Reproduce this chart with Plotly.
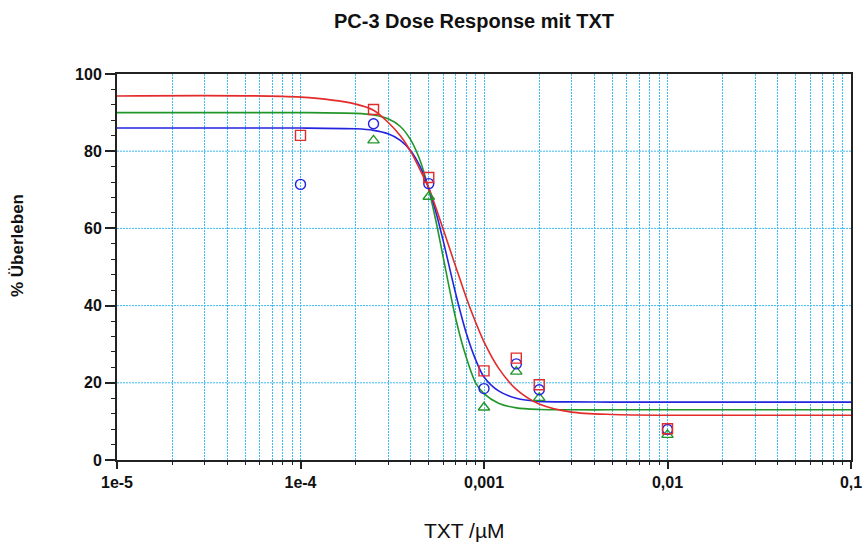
import plotly.graph_objects as go

# ---- measured data points ----
doses = [1e-4, 2.5e-4, 5e-4, 1e-3, 1.5e-3, 2e-3, 1e-2]
red_pts = [84.1, 90.8, 73.2, 23.1, 26.4, 19.5, 8.1]
blue_pts = [71.4, 87.1, 71.6, 18.5, 24.9, 18.2, 7.9]
green_pts = [None, 82.8, 68.2, 13.6, 22.9, 16.1, 6.5]

# ---- fitted curves ----
curve_dose = [1e-5, 1e-4, 2e-4, 2.5e-4, 3e-4, 3.5e-4, 4e-4, 4.5e-4, 5e-4, 5.5e-4,
              6e-4, 7e-4, 8e-4, 9e-4, 1e-3, 1.2e-3, 1.5e-3, 2e-3, 3e-3, 5e-3, 1e-2, 1e-1]
red_curve = [94.3, 94.0, 92.2, 90.6, 87.5, 84.0, 79.8, 75.0, 70.5, 65.0,
             59.7, 50.2, 42.1, 35.7, 30.6, 23.8, 18.3, 14.5, 12.4, 11.8, 11.6, 11.6]
blue_curve = [86.0, 86.0, 85.8, 85.4, 84.5, 82.8, 80.0, 75.9, 70.4, 63.8,
              56.7, 43.2, 32.9, 26.0, 21.5, 17.9, 16.0, 15.2, 15.05, 15.0, 15.0, 15.0]
green_curve = [90.0, 90.0, 89.8, 89.4, 88.4, 86.4, 82.8, 77.4, 70.0, 61.4,
               52.4, 36.8, 26.6, 20.0, 17.2, 14.7, 13.5, 13.1, 13.0, 13.0, 13.0, 13.0]

x_tickvals = [1e-5, 1e-4, 1e-3, 1e-2, 1e-1]
x_ticktext = ["1e-5", "1e-4", "0,001", "0,01", "0,1"]
x_minor = [m * 10.0 ** e for e in range(-5, -1) for m in range(2, 10)]
y_grid_vals = [20, 40, 60, 80]

title_text = "PC-3 Dose Response mit TXT"
x_title = "TXT /µM"
y_title = "% Überleben"

RED = "#e32b2b"
BLUE = "#2323e0"
GREEN = "#23962a"
GRID = "#3cbcf2"
DASH = "2px,1px"
FONT = "Liberation Sans, Arial, sans-serif"

fig = go.Figure()

for yc, col in [(green_curve, GREEN), (blue_curve, BLUE), (red_curve, RED)]:
    fig.add_trace(go.Scatter(x=curve_dose, y=yc, mode="lines",
                             line=dict(color=col, width=1.6, shape="spline", smoothing=0.8),
                             hoverinfo="skip", showlegend=False))

for yp, col, sym in [(green_pts, GREEN, "triangle-up-open"),
                     (blue_pts, BLUE, "circle-open"),
                     (red_pts, RED, "square-open")]:
    fig.add_trace(go.Scatter(x=doses, y=yp, mode="markers",
                             marker=dict(symbol=sym, size=10, color=col,
                                         line=dict(color=col, width=1.4)),
                             showlegend=False))

for gv in y_grid_vals:
    fig.add_shape(type="line", xref="paper", yref="y", x0=0, x1=1, y0=gv, y1=gv,
                  layer="below", line=dict(color=GRID, width=1, dash=DASH))

fig.update_layout(
    width=864, height=544,
    margin=dict(l=117, r=13, t=74, b=84, autoexpand=False),
    paper_bgcolor="white", plot_bgcolor="white",
    font=dict(family=FONT, color="#111"),
    title=dict(text=title_text, x=474 / 864, xanchor="center",
               y=1 - 21 / 544, yanchor="middle", yref="container",
               font=dict(family=FONT, size=20, color="#111", weight="bold")),
    showlegend=False,
)

fig.update_xaxes(
    type="log", range=[-5, -1], automargin=False,
    tickmode="array", tickvals=x_tickvals, ticktext=x_ticktext,
    ticks="outside", ticklen=7, tickwidth=1.5, tickcolor="#222",
    tickfont=dict(family=FONT, size=16, color="#111", weight="bold"),
    showline=True, linecolor="#222", linewidth=2, mirror=True,
    showgrid=True, gridcolor=GRID, gridwidth=1, griddash=DASH,
    zeroline=False,
    minor=dict(tickmode="array", tickvals=x_minor, ticks="outside", ticklen=3,
               tickwidth=1.2, tickcolor="#222",
               showgrid=True, gridcolor=GRID, gridwidth=1, griddash=DASH),
)

fig.update_yaxes(
    range=[0, 100], tick0=0, dtick=20, automargin=False,
    ticks="outside", ticklen=10, tickwidth=1.5, tickcolor="#222",
    tickfont=dict(family=FONT, size=16, color="#111", weight="bold"),
    showline=True, linecolor="#222", linewidth=2, mirror=True,
    showgrid=False, zeroline=False,
    minor=dict(dtick=4, ticks="outside", ticklen=4, tickwidth=1.2,
               tickcolor="#222", showgrid=False),
)

fig.add_annotation(text=x_title, xref="paper", yref="paper",
                   x=(464 - 117) / (851 - 117), y=-(530 - 460) / 386,
                   xanchor="center", yanchor="middle", showarrow=False,
                   font=dict(family=FONT, size=21, color="#111"))
fig.add_annotation(text=y_title, xref="paper", yref="paper",
                   x=-(117 - 17) / (851 - 117), y=(460 - 245) / 386,
                   xanchor="center", yanchor="middle", showarrow=False, textangle=-90,
                   font=dict(family=FONT, size=17, color="#111", weight="bold"))

fig.write_html("out.html")
